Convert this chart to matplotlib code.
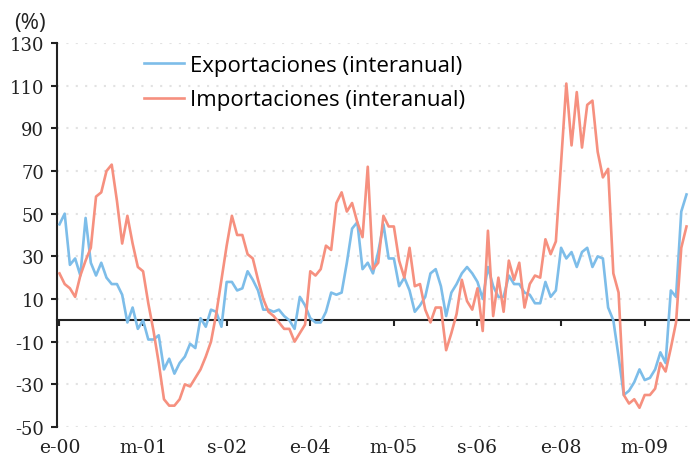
import numpy as np
import matplotlib
matplotlib.use("Agg")
import matplotlib.pyplot as plt

# variacion interanual (%), mensual desde enero 2000
exportaciones = [45, 50, 26, 29, 21, 48, 27, 21, 27, 20,
                 17, 17, 12, -1, 6, -4, 0, -9, -9, -7,
                 -23, -18, -25, -20, -17, -11, -13, 1, -3, 5,
                 4, -3, 18, 18, 14, 15, 23, 19, 14, 5,
                 5, 4, 5, 2, 0, -4, 11, 7, 1, -1,
                 -1, 4, 13, 12, 13, 27, 43, 46, 24, 27,
                 22, 32, 45, 29, 29, 16, 20, 14, 4, 7,
                 11, 22, 24, 16, 2, 13, 17, 22, 25, 22,
                 18, 10, 25, 16, 11, 11, 21, 17, 17, 13,
                 12, 8, 8, 18, 11, 14, 34, 29, 32, 25,
                 32, 34, 25, 30, 29, 6, 0, -17, -35, -33,
                 -29, -23, -28, -27, -23, -15, -20, 14, 11, 51,
                 59]
importaciones = [22, 17, 15, 11, 21, 28, 34, 58, 60, 70,
                 73, 56, 36, 49, 36, 25, 23, 8, -5, -20,
                 -37, -40, -40, -37, -30, -31, -27, -23, -17, -10,
                 3, 19, 35, 49, 40, 40, 31, 29, 19, 10,
                 4, 2, -1, -4, -4, -10, -6, -2, 23, 21,
                 24, 35, 33, 55, 60, 51, 55, 46, 39, 72,
                 24, 27, 49, 44, 44, 28, 20, 34, 16, 17,
                 5, -1, 6, 6, -14, -6, 3, 19, 9, 5,
                 15, -5, 42, 2, 20, 4, 28, 19, 27, 6,
                 17, 21, 20, 38, 31, 37, 74, 111, 82, 107,
                 81, 101, 103, 79, 67, 71, 22, 13, -35, -39,
                 -37, -41, -35, -35, -32, -20, -24, -13, -1, 34,
                 44]

tick_meses = [0, 16, 32, 48, 64, 80, 96, 112]
tick_labels = ["e-00", "m-01", "s-02", "e-04", "m-05", "s-06", "e-08", "m-09"]
y_ticks = [-50, -30, -10, 10, 30, 50, 70, 90, 110, 130]

meses = np.arange(len(exportaciones))

fig = plt.figure(figsize=(6.9, 4.6), dpi=100)
ax = fig.add_axes([0.0833, 0.0696, 0.9167, 0.8347])

ax.plot(meses, exportaciones, color="#7dbde9", lw=1.9, label="Exportaciones (interanual)", zorder=3)
ax.plot(meses, importaciones, color="#f6907f", lw=1.9, label="Importaciones (interanual)", zorder=3)

ax.set_xlim(-0.38, 120.67)
ax.set_ylim(-50, 130)

# rejilla punteada
for v in y_ticks:
    ax.axhline(v, color="#e2e2e2", lw=1.5, linestyle=(0, (1, 3.5)), zorder=1)

# eje x sobre el cero
ax.spines["bottom"].set_position(("data", 0))
ax.spines["bottom"].set_linewidth(1.5)
ax.spines["bottom"].set_color("#222222")
ax.spines["bottom"].set_zorder(2)
ax.spines["top"].set_visible(False)
ax.spines["right"].set_visible(False)
ax.spines["left"].set_linewidth(1.5)
ax.spines["left"].set_color("#222222")

ax.set_xticks(tick_meses)
ax.tick_params(axis="x", direction="out", length=4.5, width=1.5, color="#222222", labelbottom=False)
ax.set_yticks(y_ticks)
ax.set_yticklabels([str(v) for v in y_ticks], fontfamily="DejaVu Serif", fontsize=13, color="#222222")
ax.tick_params(axis="y", direction="out", length=4.5, width=1.5, color="#222222", pad=5)

sec = ax.secondary_xaxis("bottom")
sec.set_xticks(tick_meses)
sec.set_xticklabels(tick_labels, fontfamily="DejaVu Serif", fontsize=13.5, color="#222222")
sec.tick_params(length=0, pad=8)
sec.spines["bottom"].set_visible(False)

ax.legend(loc="center left", bbox_to_anchor=(0.208, 0.818), bbox_transform=fig.transFigure,
          frameon=False, prop={"family": "Open Sans", "size": 16}, handlelength=1.8,
          handletextpad=0.3, labelspacing=0.6, borderpad=0, borderaxespad=0)

fig.text(0.02, 0.95, "(%)", fontfamily="Open Sans", fontsize=16, va="center", ha="left", color="#222222")

plt.savefig("out.png", dpi=100)
